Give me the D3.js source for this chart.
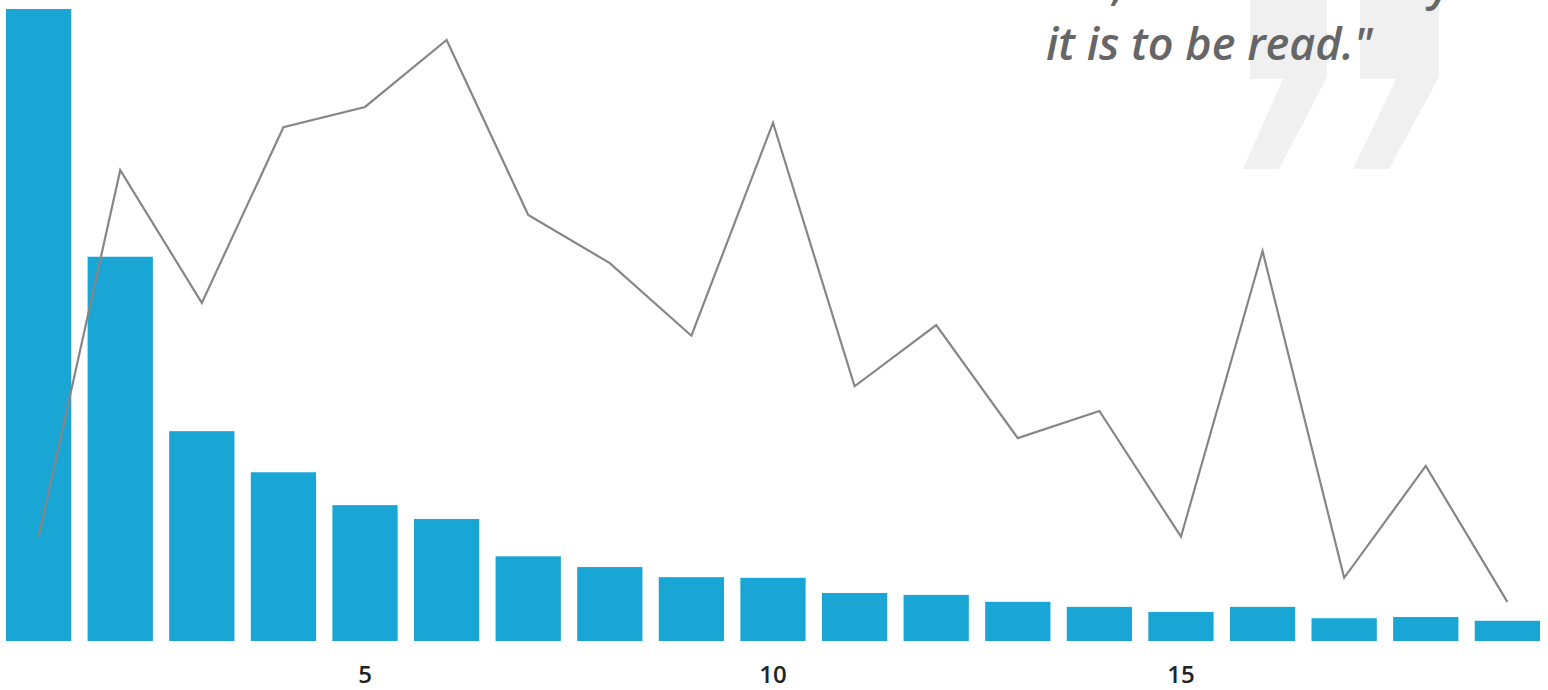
<!DOCTYPE html>
<html>
<head>
<meta charset="utf-8">
<script src="https://cdn.jsdelivr.net/npm/d3@7"></script>
<style>
  body { margin: 0; background: #fff; overflow: hidden; }
  svg { display: block; }
</style>
</head>
<body>
<div id="chart"></div>
<script>
// chart data (bar max = 100)
var categories = d3.range(1, 20);
var barValues = [100, 60.8, 33.2, 26.7, 21.5, 19.3, 13.4, 11.7, 10.1, 10.0, 7.6, 7.3, 6.2, 5.4, 4.6, 5.4, 3.6, 3.8, 3.2];
var lineValues = [16.5, 74.5, 53.5, 81.3, 84.5, 95.1, 67.4, 59.8, 48.3, 82.0, 40.3, 50.0, 32.1, 36.4, 16.5, 61.7, 10.0, 27.7, 6.2];
var tickLabels = [5, 10, 15];
var quoteLines = ["\u201CSo, the more easily", "it is to be read.\""];

var width = 1548, height = 690;

var svg = d3.select("#chart")
  .append("svg")
  .attr("width", width)
  .attr("height", height);

// big quote mark in the background
var quoteMark = "M1250,-10 L1327,-10 L1327,77 L1279,169 L1243,169 L1283,79 L1250,79 Z " +
                "M1360,-10 L1439,-10 L1439,77 L1389,169 L1353,169 L1396,79 L1360,79 Z";
svg.append("path")
  .attr("d", quoteMark)
  .attr("fill", "#f0f0f0");

// quote text (first line runs off the top, as in the original)
svg.append("g")
  .selectAll("text")
  .data(quoteLines)
  .enter()
  .append("text")
    .attr("x", 1046)
    .attr("y", function (d, i) { return i * 60; })
    .attr("fill", "#666")
    .style("font-family", "'Open Sans', sans-serif")
    .style("font-weight", "600")
    .style("font-style", "italic")
    .style("font-size", "45px")
    .text(function (d) { return d; });

// scales
var x = d3.scaleBand()
  .domain(categories)
  .range([6, 1540])
  .paddingInner(0.2)
  .paddingOuter(0);

var y = d3.scaleLinear()
  .domain([0, 100])
  .range([641, 9]);

// bars
svg.append("g")
  .selectAll("rect")
  .data(barValues)
  .enter()
  .append("rect")
    .attr("x", function (d, i) { return x(categories[i]); })
    .attr("y", function (d) { return y(d); })
    .attr("width", x.bandwidth())
    .attr("height", function (d) { return y(0) - y(d); })
    .attr("fill", "#19a6d4");

// line
var line = d3.line()
  .x(function (d, i) { return x(categories[i]) + x.bandwidth() / 2; })
  .y(function (d) { return y(d); });

svg.append("path")
  .datum(lineValues)
  .attr("d", line)
  .attr("fill", "none")
  .attr("stroke", "#868686")
  .attr("stroke-width", 2.2);

// x axis, only 5, 10, 15
var xAxis = d3.axisBottom(x)
  .tickValues(tickLabels)
  .tickSize(0)
  .tickPadding(25);

var gx = svg.append("g")
  .attr("transform", "translate(0,641)")
  .call(xAxis);
gx.select(".domain").remove();
gx.selectAll("text")
  .attr("fill", "#222")
  .style("font-family", "'Open Sans', sans-serif")
  .style("font-weight", "600")
  .style("font-size", "24px");
</script>
</body>
</html>
